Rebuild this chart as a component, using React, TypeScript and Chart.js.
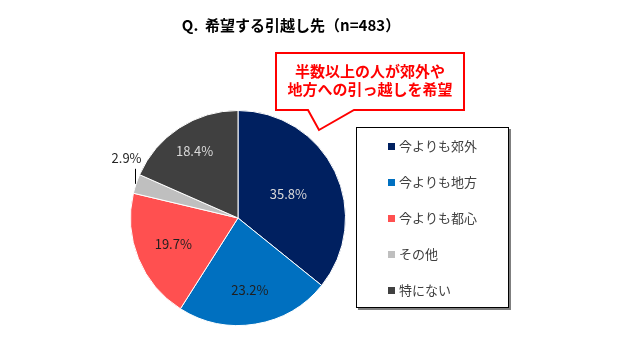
import React, { useEffect, useRef } from "react";
import { Chart, registerables } from "chart.js";
Chart.register(...registerables);

const categories = ["今よりも郊外", "今よりも地方", "今よりも都心", "その他", "特にない"];
const shares = [35.8, 23.2, 19.7, 2.9, 18.4];
const sliceColors = ["#002060", "#0070C0", "#FF5050", "#BFBFBF", "#404040"];
const labelColors = ["#D9D9D9", "#1f1f1f", "#1f1f1f", "#262626", "#D9D9D9"];
const titleText = "Q.  希望する引越し先（n=483）";
const calloutLines = ["半数以上の人が郊外や", "地方への引っ越しを希望"];

const FONT = '"Noto Sans CJK JP", "Noto Sans", sans-serif';

const labelPlugin = {
  id: "sliceLabels",
  afterDatasetsDraw(chart: any) {
    const ctx = chart.ctx;
    const meta = chart.getDatasetMeta(0);
    const fractions = [0.52, 0.68, 0.65, -1, 0.74];
    ctx.save();
    ctx.font = `13px ${FONT}`;
    ctx.textAlign = "center";
    ctx.textBaseline = "middle";
    meta.data.forEach((arc: any, i: number) => {
      const { x, y, startAngle, endAngle, outerRadius } = arc.getProps(
        ["x", "y", "startAngle", "endAngle", "outerRadius"],
        true
      );
      const mid = (startAngle + endAngle) / 2;
      const text = shares[i].toFixed(1) + "%";
      ctx.fillStyle = labelColors[i];
      if (fractions[i] > 0) {
        const r = outerRadius * fractions[i];
        ctx.fillText(text, x + Math.cos(mid) * r, y + Math.sin(mid) * r);
      } else {
        const ex = x + Math.cos(mid) * outerRadius - 1.5;
        const ey = y + Math.sin(mid) * outerRadius;
        ctx.strokeStyle = "#000";
        ctx.lineWidth = 1;
        ctx.beginPath();
        ctx.moveTo(Math.round(ex) + 0.5, ey);
        ctx.lineTo(Math.round(ex) + 0.5, ey - 15);
        ctx.stroke();
        ctx.fillText(text, ex - 8, ey - 26);
      }
    });
    ctx.restore();
  },
};

const decorPlugin = {
  id: "decor",
  afterDraw(chart: any) {
    const ctx = chart.ctx;
    ctx.save();
    // title
    ctx.font = `bold 15px ${FONT}`;
    ctx.fillStyle = "#000";
    ctx.textAlign = "center";
    ctx.textBaseline = "middle";
    ctx.fillText(titleText, 291, 25);

    // callout
    ctx.beginPath();
    ctx.moveTo(276, 53);
    ctx.lineTo(464, 53);
    ctx.lineTo(464, 110);
    ctx.lineTo(354, 110);
    ctx.lineTo(319, 130);
    ctx.lineTo(308, 110);
    ctx.lineTo(276, 110);
    ctx.closePath();
    ctx.fillStyle = "#fff";
    ctx.fill();
    ctx.strokeStyle = "#FF0000";
    ctx.lineWidth = 2;
    ctx.stroke();
    ctx.fillStyle = "#FF0000";
    ctx.font = `bold 15px ${FONT}`;
    ctx.fillText(calloutLines[0], 370, 71);
    ctx.fillText(calloutLines[1], 370, 89);

    // legend
    ctx.fillStyle = "#7f7f7f";
    ctx.fillRect(358, 129, 153, 181);
    ctx.fillStyle = "#fff";
    ctx.fillRect(356, 127, 153, 181);
    ctx.strokeStyle = "#000";
    ctx.lineWidth = 1;
    ctx.strokeRect(356.5, 127.5, 152, 180);
    ctx.font = `13px ${FONT}`;
    ctx.textAlign = "left";
    const labels = chart.data.labels as string[];
    const colors = chart.data.datasets[0].backgroundColor as string[];
    labels.forEach((lab, i) => {
      const cy = 146 + 36 * i;
      ctx.fillStyle = colors[i];
      ctx.fillRect(388, cy - 3, 7, 7);
      ctx.fillStyle = "#404040";
      ctx.fillText(lab, 399, cy);
    });
    ctx.restore();
  },
};

export default function App() {
  const ref = useRef<HTMLCanvasElement>(null);
  useEffect(() => {
    if (!ref.current) return;
    const chart = new Chart(ref.current, {
      type: "pie",
      data: {
        labels: categories,
        datasets: [
          {
            data: shares,
            backgroundColor: sliceColors,
            borderColor: "#ffffff",
            borderWidth: 1,
          },
        ],
      },
      options: {
        responsive: false,
        animation: false,
        layout: { padding: { left: 130, right: 294, top: 110, bottom: 34 } },
        plugins: {
          legend: { display: false },
          tooltip: { enabled: false },
          title: { display: false },
        },
      },
      plugins: [labelPlugin, decorPlugin],
    });
    return () => chart.destroy();
  }, []);
  return (
    <div style={{ position: "fixed", left: 0, top: 0, width: 640, height: 360, background: "#fff" }}>
      <canvas ref={ref} width={640} height={360} />
    </div>
  );
}
